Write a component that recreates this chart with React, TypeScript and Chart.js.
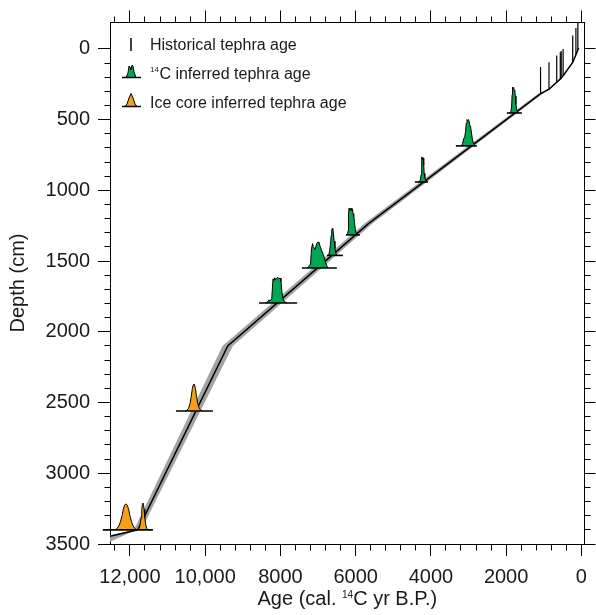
import React, { useEffect, useRef } from 'react';
import { Chart, registerables } from 'chart.js';

Chart.register(...registerables);

const FONT = '"Liberation Sans", Arial, Helvetica, sans-serif';
const TEXT = '#1a1a1a';
const GREEN = '#00a651';
const ORANGE = '#f6a01a';
const BAND = '#a3a3a3';

// ---- axes ----
const X_MIN = -90;
const X_MAX = 12530;
const Y_MIN = -190;
const Y_MAX = 3500;
const xTickValues = [12000, 10000, 8000, 6000, 4000, 2000, 0];
const xTickLabels = ['12,000', '10,000', '8000', '6000', '4000', '2000', '0'];
const yTickValues = [0, 500, 1000, 1500, 2000, 2500, 3000, 3500];
const yTickLabels = ['0', '500', '1000', '1500', '2000', '2500', '3000', '3500'];
const xMinorStep = 400;
const yMinorStep = 100;

// ---- age-depth model ----
const modelAge = [12530, 11790, 9400, 5667, 1090, 860, 655, 555, 485, 230, 145, 93, 75];
const modelDepth = [3445, 3400, 2100, 1237, 318, 285, 236, 212, 190, 95, 42, 7, -6];

// uncertainty envelope (older edge bottom->top, then younger edge top->bottom)
const bandOlderAge = [12530, 11910, 9540, 5775, 1150, 895, 680, 575, 500, 240, 152, 97, 78];
const bandOlderDepth = [3484, 3410, 2100, 1237, 318, 285, 236, 212, 190, 95, 42, 7, -6];
const bandYoungerAge = [72, 89, 138, 220, 470, 535, 630, 825, 1030, 5560, 9265, 11680, 12530];
const bandYoungerDepth = [-6, 7, 42, 95, 190, 212, 236, 285, 318, 1237, 2100, 3390, 3438];

// ---- historical tephra ----
const histAges = [1085, 860, 655, 560, 535, 485, 230, 145, 93];
const histDepths = [318, 285, 236, 213, 205, 190, 95, 42, 7];
const histLength = 190;

// ---- 14C inferred tephra age distributions (age, height in cm above baseline) ----
const g1Depth = 1796;
const g1Base = [8570, 7555];
const g1Ages = [8400, 8340, 8300, 8270, 8230, 8205, 8195, 8175, 8150, 8125, 8100, 8070, 8040, 8010, 7985, 7960, 7935, 7900, 7860, 7820];
const g1Heights = [0, 8, 22, 14, 30, 140, 170, 160, 178, 165, 175, 182, 170, 176, 150, 80, 30, 12, 5, 0];

const g2Depth = 1549;
const g2Base = [7430, 6500];
const g2Ages = [7290, 7250, 7225, 7200, 7180, 7160, 7145, 7125, 7100, 7083, 7060, 7035, 7000, 6975, 6940, 6905, 6870, 6836, 6800, 6772, 6740];
const g2Heights = [0, 10, 20, 28, 110, 160, 172, 150, 140, 132, 150, 175, 184, 180, 150, 125, 100, 78, 40, 19, 0];

const g3Depth = 1460;
const g3Base = [6764, 6339];
const g3Ages = [6740, 6710, 6690, 6670, 6650, 6635, 6620, 6605, 6590, 6570, 6550, 6530, 6510, 6490];
const g3Heights = [0, 10, 35, 80, 140, 180, 190, 182, 150, 100, 50, 20, 6, 0];

const g4Depth = 1315;
const g4Base = [6259, 5887];
const g4Ages = [6240, 6215, 6200, 6190, 6175, 6160, 6145, 6130, 6115, 6100, 6085, 6070, 6050, 6030, 6010, 5990, 5970, 5950];
const g4Heights = [0, 8, 30, 150, 188, 175, 185, 178, 188, 170, 182, 150, 130, 90, 40, 15, 5, 0];

const g5Depth = 941;
const g5Base = [4425, 4080];
const g5Ages = [4330, 4300, 4280, 4262, 4250, 4238, 4226, 4214, 4202, 4190, 4178, 4160, 4140, 4110, 4080];
const g5Heights = [0, 5, 15, 50, 165, 177, 172, 160, 170, 120, 60, 30, 12, 4, 0];

const g6Depth = 686;
const g6Base = [3336, 2777];
const g6Ages = [3190, 3160, 3130, 3100, 3080, 3060, 3040, 3020, 3000, 2980, 2960, 2945, 2920, 2892, 2860, 2830];
const g6Heights = [0, 15, 50, 64, 100, 160, 186, 180, 186, 170, 140, 134, 90, 40, 12, 0];

const g7Depth = 453;
const g7Base = [1980, 1583];
const g7Ages = [1900, 1875, 1855, 1840, 1830, 1815, 1800, 1785, 1770, 1755, 1740, 1720, 1700, 1680];
const g7Heights = [0, 10, 40, 130, 182, 175, 180, 160, 153, 120, 60, 25, 8, 0];

// ---- ice core inferred tephra age distributions ----
const o1Depth = 2560;
const o1Base = [10777, 9794];
const o1Ages = [10530, 10480, 10440, 10400, 10370, 10340, 10320, 10300, 10280, 10260, 10230, 10200, 10160, 10120, 10070];
const o1Heights = [0, 6, 20, 55, 105, 160, 183, 191, 183, 160, 105, 55, 20, 6, 0];

const o2Depth = 3400;
const o2Base = [12720, 11390];
const o2Ages = [12400, 12340, 12290, 12250, 12210, 12175, 12140, 12106, 12070, 12035, 12000, 11960, 11920, 11870, 11810];
const o2Heights = [0, 10, 30, 60, 100, 145, 175, 184, 175, 145, 100, 60, 30, 10, 0];

const o3Depth = 3400;
const o3Ages = [11790, 11760, 11730, 11705, 11685, 11670, 11655, 11640, 11625, 11605, 11580, 11550, 11520];
const o3Heights = [0, 10, 35, 85, 145, 180, 190, 180, 145, 85, 35, 10, 0];

const greenPeaks = [
  { depth: g1Depth, ages: g1Ages, heights: g1Heights, base: g1Base },
  { depth: g2Depth, ages: g2Ages, heights: g2Heights, base: g2Base },
  { depth: g3Depth, ages: g3Ages, heights: g3Heights, base: g3Base },
  { depth: g4Depth, ages: g4Ages, heights: g4Heights, base: g4Base },
  { depth: g5Depth, ages: g5Ages, heights: g5Heights, base: g5Base },
  { depth: g6Depth, ages: g6Ages, heights: g6Heights, base: g6Base },
  { depth: g7Depth, ages: g7Ages, heights: g7Heights, base: g7Base },
];
const orangePeaks = [
  { depth: o1Depth, ages: o1Ages, heights: o1Heights, base: o1Base },
  { depth: o2Depth, ages: o2Ages, heights: o2Heights, base: o2Base },
  { depth: o3Depth, ages: o3Ages, heights: o3Heights, base: null as number[] | null },
];

function buildDatasets() {
  const ds: any[] = [];
  const band = [
    ...bandOlderAge.map((a, i) => ({ x: a, y: bandOlderDepth[i] })),
    ...bandYoungerAge.map((a, i) => ({ x: a, y: bandYoungerDepth[i] })),
  ];
  ds.push({
    data: band, fill: 'shape', backgroundColor: BAND, borderColor: 'rgba(0,0,0,0)',
    borderWidth: 0, pointRadius: 0, order: 20,
  });
  ds.push({
    data: modelAge.map((a, i) => ({ x: a, y: modelDepth[i] })),
    borderColor: '#000', borderWidth: 1.5, pointRadius: 0, fill: false, order: 19,
  });
  histAges.forEach((a, i) => {
    ds.push({
      data: [{ x: a, y: histDepths[i] }, { x: a, y: histDepths[i] - histLength }],
      borderColor: '#000', borderWidth: 1.2, pointRadius: 0, fill: false, order: 15,
    });
  });
  const addPeak = (p: any, color: string, k: number) => {
    ds.push({
      data: p.ages.map((a: number, i: number) => ({ x: a, y: p.depth - p.heights[i] })),
      fill: 'shape', backgroundColor: color, borderColor: '#000', borderWidth: 1,
      pointRadius: 0, order: 10 - k * 0.01,
    });
    if (p.base) {
      ds.push({
        data: [{ x: p.base[0], y: p.depth }, { x: p.base[1], y: p.depth }],
        borderColor: '#000', borderWidth: 1.6, pointRadius: 0, fill: false, order: 5,
        clip: false,
      });
    }
  };
  greenPeaks.forEach((p, k) => addPeak(p, GREEN, k));
  orangePeaks.forEach((p, k) => addPeak(p, ORANGE, k));
  return ds;
}

const align = (v: number) => Math.round(v + 0.5) - 0.5;

const decorPlugin = {
  id: 'decor',
  afterDraw(chart: any) {
    const { ctx, chartArea: a, scales } = chart;
    const x = scales.x;
    const y = scales.y;
    ctx.save();
    ctx.strokeStyle = '#000';
    ctx.lineWidth = 1;
    const seg = (x1: number, y1: number, x2: number, y2: number) => {
      ctx.beginPath();
      ctx.moveTo(x1, y1);
      ctx.lineTo(x2, y2);
      ctx.stroke();
    };
    const T = align(a.top);
    const R = align(a.right);
    const B = align(a.bottom);
    const L = align(a.left);
    seg(a.left, T, a.right + 0.5, T);
    seg(R, a.top, R, a.bottom + 0.5);
    for (let v = 0; v <= X_MAX; v += xMinorStep) {
      const px = align(x.getPixelForValue(v));
      const major = v % 2000 === 0;
      seg(px, T, px, T - (major ? 12 : 6));
      if (!major) seg(px, B, px, B + 6);
    }
    for (let v = 0; v <= Y_MAX; v += yMinorStep) {
      const py = align(y.getPixelForValue(v));
      const major = v % 500 === 0;
      seg(R, py, R + (major ? 11 : 6), py);
      if (!major) seg(L, py, L - 6, py);
    }

    // x-axis title with superscript
    ctx.fillStyle = TEXT;
    ctx.textBaseline = 'alphabetic';
    const big = `20px ${FONT}`;
    const sup = `10px ${FONT}`;
    const p1 = 'Age (cal. ';
    const p2 = '14';
    const p3 = 'C yr B.P.)';
    ctx.font = big;
    const w1 = ctx.measureText(p1).width;
    const w3 = ctx.measureText(p3).width;
    ctx.font = sup;
    const w2 = ctx.measureText(p2).width;
    let tx = (a.left + a.right) / 2 - (w1 + w2 + w3) / 2;
    const ty = 605;
    ctx.font = big;
    ctx.textAlign = 'left';
    ctx.fillText(p1, tx, ty);
    tx += w1;
    ctx.font = sup;
    ctx.fillText(p2, tx, ty - 7);
    tx += w2;
    ctx.font = big;
    ctx.fillText(p3, tx, ty);

    // legend
    const lx = 150;
    ctx.font = `16px ${FONT}`;
    ctx.fillText('Historical tephra age', lx, 50);
    ctx.font = `8px ${FONT}`;
    ctx.fillText('14', lx, 71.5);
    const sw = ctx.measureText('14').width;
    ctx.font = `16px ${FONT}`;
    ctx.fillText('C inferred tephra age', lx + sw + 0.5, 78.5);
    ctx.fillText('Ice core inferred tephra age', lx, 107.5);

    // legend symbols
    ctx.lineWidth = 1.5;
    seg(131, 38, 131, 51);
    ctx.lineWidth = 1;
    const sym = (pts: number[][], color: string, by: number) => {
      ctx.beginPath();
      ctx.moveTo(pts[0][0], pts[0][1]);
      for (const p of pts.slice(1)) ctx.lineTo(p[0], p[1]);
      ctx.closePath();
      ctx.fillStyle = color;
      ctx.fill();
      ctx.stroke();
      ctx.lineWidth = 1.5;
      seg(122, by, 141, by);
      ctx.lineWidth = 1;
    };
    sym([[126, 77.5], [128, 73], [129, 66], [130, 67], [131, 70], [132, 65], [133, 66], [134, 72], [136, 77.5]], GREEN, 77.5);
    sym([[125, 106.5], [127, 104], [129, 98], [131, 93.5], [133, 98], [135, 104], [137, 106.5]], ORANGE, 106.5);
    ctx.restore();
  },
};

export default function App() {
  const ref = useRef<HTMLCanvasElement>(null);
  useEffect(() => {
    document.body.style.margin = '0';
    Chart.defaults.font.family = FONT;
    const chart = new Chart(ref.current as HTMLCanvasElement, {
      type: 'line',
      data: { datasets: buildDatasets() },
      options: {
        animation: false,
        responsive: false,
        devicePixelRatio: 1,
        layout: { padding: { top: 22, right: 11, left: 0, bottom: 0 } },
        elements: { line: { tension: 0 }, point: { radius: 0 } },
        plugins: { legend: { display: false }, tooltip: { enabled: false } },
        scales: {
          x: {
            type: 'linear',
            position: 'bottom',
            min: X_MIN,
            max: X_MAX,
            reverse: true,
            afterBuildTicks: (s: any) => { s.ticks = xTickValues.map((v) => ({ value: v })); },
            afterFit: (s: any) => { s.height = 71; },
            ticks: {
              autoSkip: false, maxRotation: 0, minRotation: 0, padding: 9,
              color: TEXT, font: { size: 20, family: FONT },
              callback: (v: any) => xTickLabels[xTickValues.indexOf(Number(v))] ?? '',
            },
            grid: { display: true, drawOnChartArea: false, drawTicks: true, tickLength: 12, color: '#000', lineWidth: 1 },
            border: { display: true, color: '#000', width: 1 },
          },
          y: {
            type: 'linear',
            position: 'left',
            min: Y_MIN,
            max: Y_MAX,
            reverse: true,
            afterBuildTicks: (s: any) => { s.ticks = yTickValues.map((v) => ({ value: v })); },
            afterFit: (s: any) => { s.width = 110; },
            ticks: {
              autoSkip: false, padding: 8, color: TEXT, font: { size: 20, family: FONT },
              callback: (v: any) => yTickLabels[yTickValues.indexOf(Number(v))] ?? '',
            },
            title: { display: true, text: 'Depth (cm)', color: TEXT, font: { size: 20, family: FONT }, padding: { top: 6, bottom: 0 } },
            grid: { display: true, drawOnChartArea: false, drawTicks: true, tickLength: 12, color: '#000', lineWidth: 1 },
            border: { display: true, color: '#000', width: 1 },
          },
        },
      },
      plugins: [decorPlugin],
    } as any);
    return () => chart.destroy();
  }, []);
  return (
    <div style={{ width: 596, height: 615 }}>
      <canvas ref={ref} width={596} height={615} style={{ display: 'block', width: 596, height: 615 }} />
    </div>
  );
}
